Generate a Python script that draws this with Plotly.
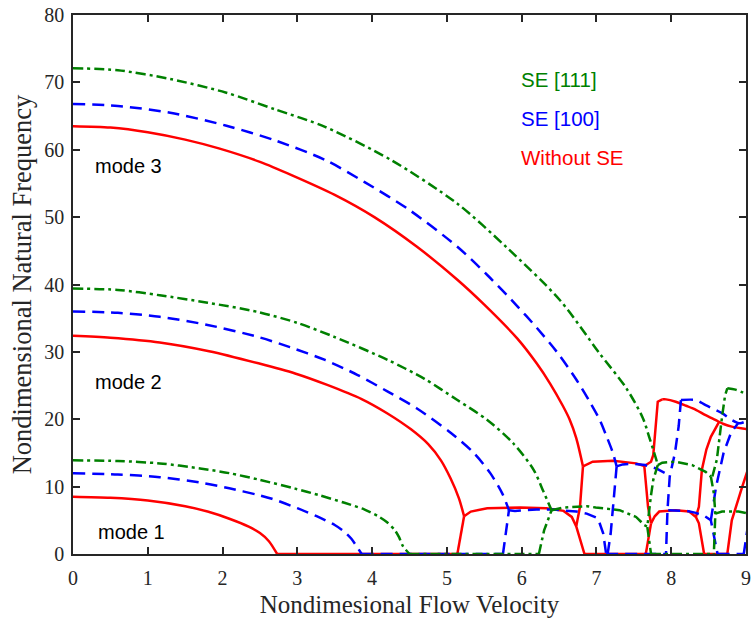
import plotly.graph_objects as go

# ---------------- Without SE (red, solid) ----------------
red_mode1_x = [0, 0.5, 1.0, 1.5, 1.8, 2.1, 2.35, 2.5, 2.62, 2.73]
red_mode1_y = [8.5, 8.35, 7.95, 7.1, 6.3, 5.2, 4.05, 3.1, 1.9, 0]
red_mode2_x = [0, 0.5, 1.16, 1.82, 2.48, 2.97, 3.4, 3.86, 4.2, 4.52, 4.75, 4.92, 5.05, 5.16, 5.23]
red_mode2_y = [32.4, 32.1, 31.4, 30.1, 28.3, 26.8, 25.1, 23.0, 20.9, 18.5, 16.3, 13.9, 11.2, 8.3, 5.6]
red_mode3_x = [0, 0.5, 1.0, 1.5, 1.95, 2.5, 2.93, 3.5, 4.03, 4.6, 5.14, 5.5, 5.94, 6.2, 6.38, 6.55, 6.64, 6.73, 6.82]
red_mode3_y = [63.5, 63.3, 62.6, 61.5, 60.2, 58.2, 56.2, 53.3, 50.0, 45.6, 40.7, 37.0, 32.0, 28.3, 25.3, 22.0, 20.0, 17.2, 13.0]
red_zero_x = [[2.73, 5.14], [6.84, 7.66], [8.44, 8.75]]
red_rise1_x = [5.14, 5.23]
red_rise1_y = [0, 5.6]
red_cpl1_x = [5.23, 5.32, 5.54, 5.98, 6.33, 6.56, 6.67, 6.73]
red_cpl1_y = [5.6, 6.3, 6.8, 6.9, 6.8, 6.4, 5.5, 4.1]
red_drop1_x = [6.82, 6.78, 6.73, 6.84]
red_drop1_y = [13.0, 7.0, 4.1, 0]
red_cpl2_x = [6.82, 6.95, 7.22, 7.53, 7.64]
red_cpl2_y = [13.0, 13.7, 13.85, 13.45, 13.06]
red_up1_x = [7.64, 7.73, 7.76, 7.82, 7.88]
red_up1_y = [13.06, 13.7, 14.7, 22.6, 22.95]
red_top_x = [7.88, 7.93, 8.06, 8.2, 8.33, 8.46, 8.59, 8.7, 8.81, 9.03]
red_top_y = [22.95, 22.95, 22.6, 22.0, 21.4, 20.6, 19.9, 19.3, 18.9, 18.5]
red_drop2_x = [7.64, 7.69, 7.73]
red_drop2_y = [13.06, 7.0, 4.55]
red_rise2_x = [7.66, 7.73]
red_rise2_y = [0, 4.55]
red_cpl3_x = [7.73, 7.78, 7.84, 8.06, 8.24, 8.33, 8.37, 8.44]
red_cpl3_y = [4.55, 5.6, 6.3, 6.5, 6.3, 5.5, 4.55, 0]
red_up2_x = [8.33, 8.37, 8.41, 8.47, 8.53, 8.64]
red_up2_y = [5.5, 7.0, 12.5, 15.5, 17.4, 19.6]
red_rise3_x = [8.75, 8.81, 8.95, 9.03]
red_rise3_y = [0, 5.0, 10.0, 12.7]

# ---------------- SE [100] (blue, dashed) ----------------
blue_mode1_x = [0, 0.6, 1.16, 1.7, 2.09, 2.48, 2.66, 3.0, 3.28, 3.5, 3.63, 3.72, 3.79, 3.86]
blue_mode1_y = [12.0, 11.8, 11.4, 10.6, 9.75, 8.75, 8.2, 6.8, 5.5, 4.3, 3.3, 2.3, 1.2, 0]
blue_mode2_x = [0, 0.6, 1.16, 1.8, 2.48, 2.9, 3.37, 3.8, 4.21, 4.6, 5.05, 5.36, 5.58, 5.74, 5.83]
blue_mode2_y = [36.0, 35.8, 35.2, 34.0, 32.2, 30.7, 28.8, 26.6, 24.1, 21.6, 18.0, 15.0, 12.0, 9.0, 6.5]
blue_mode3_x = [0, 0.6, 1.3, 2.04, 2.7, 3.37, 3.9, 4.48, 5.14, 5.55, 5.94, 6.2, 6.47, 6.73, 6.91, 7.04, 7.13, 7.22, 7.27]
blue_mode3_y = [66.8, 66.5, 65.5, 63.6, 61.4, 58.5, 55.2, 51.2, 45.6, 41.3, 36.8, 33.6, 30.0, 25.9, 22.6, 20.0, 17.6, 15.0, 13.0]
blue_zero_x = [[3.86, 5.75], [7.13, 7.93], [8.62, 8.97]]
blue_rise1_x = [5.75, 5.83]
blue_rise1_y = [0, 6.5]
blue_cpl1_x = [5.83, 5.91, 6.2, 6.42, 6.73, 6.87, 7.02, 7.09, 7.13]
blue_cpl1_y = [6.5, 6.4, 6.6, 6.6, 6.3, 6.0, 5.3, 3.07, 0]
blue_drop1_x = [7.27, 7.24, 7.19, 7.15]
blue_drop1_y = [13.0, 9.0, 3.0, 0]
blue_cpl2_x = [7.27, 7.35, 7.5, 7.65, 7.8, 7.92, 7.98]
blue_cpl2_y = [13.0, 13.3, 13.4, 13.2, 12.7, 12.0, 11.5]
blue_vert_x = [8.13, 8.1, 8.05, 7.98, 7.95, 7.93]
blue_vert_y = [22.85, 19.0, 15.0, 11.5, 6.5, 0]
blue_top_x = [8.13, 8.33, 8.46, 8.68, 8.81, 8.92, 9.03]
blue_top_y = [22.85, 22.85, 22.1, 20.9, 19.9, 19.4, 19.9]
blue_cpl3_x = [7.96, 8.02, 8.2, 8.33, 8.45, 8.53, 8.58, 8.62]
blue_cpl3_y = [6.5, 6.5, 6.4, 6.1, 5.6, 5.0, 2.5, 0]
blue_up2_x = [8.53, 8.6, 8.7, 8.8, 8.9]
blue_up2_y = [5.0, 10.0, 15.0, 18.0, 19.5]
blue_rise3_x = [8.97, 9.03]
blue_rise3_y = [0, 4.5]

# ---------------- SE [111] (green, dash-dot) ----------------
green_mode1_x = [0, 0.6, 1.16, 1.7, 2.09, 2.5, 2.97, 3.3, 3.63, 3.9, 4.08, 4.2, 4.30, 4.36, 4.41, 4.50]
green_mode1_y = [13.9, 13.8, 13.45, 12.7, 12.0, 11.0, 9.7, 8.7, 7.6, 6.6, 5.6, 4.7, 3.6, 2.5, 1.2, 0]
green_mode2_x = [0, 0.6, 1.16, 1.8, 2.48, 3.0, 3.5, 4.21, 4.7, 5.14, 5.54, 5.89, 6.16, 6.29, 6.40]
green_mode2_y = [39.4, 39.2, 38.4, 37.3, 35.9, 34.3, 32.2, 28.8, 26.0, 22.85, 19.9, 16.4, 12.5, 9.3, 6.5]
green_mode3_x = [0, 0.6, 1.3, 2.04, 2.7, 3.37, 4.25, 5.14, 5.8, 6.51, 7.04, 7.40, 7.62, 7.71, 7.80, 7.82]
green_mode3_y = [72.1, 71.8, 70.5, 68.5, 66.0, 63.4, 58.5, 52.0, 45.5, 37.7, 29.8, 24.6, 20.2, 17.2, 14.0, 13.2]
green_zero_x = [[4.50, 6.23], [7.73, 8.57]]
green_rise1_x = [6.23, 6.30, 6.40]
green_rise1_y = [0, 3.5, 6.5]
green_cpl1_x = [6.40, 6.56, 6.87, 6.99, 7.31, 7.53, 7.64, 7.68]
green_cpl1_y = [6.5, 6.9, 7.1, 6.9, 6.5, 5.5, 4.3, 4.05]
green_drop1_x = [7.82, 7.80, 7.76, 7.73, 7.70, 7.68, 7.73]
green_drop1_y = [13.2, 12.5, 11.0, 8.75, 6.0, 4.05, 0]
green_cpl2_x = [7.82, 7.88, 8.06, 8.28, 8.46, 8.53]
green_cpl2_y = [13.2, 13.55, 13.7, 13.2, 12.2, 11.5]
green_drop2_x = [8.53, 8.57, 8.59, 8.58, 8.57]
green_drop2_y = [11.5, 9.0, 6.0, 2.1, 0]
green_up_x = [8.55, 8.61, 8.68, 8.72, 8.75]
green_up_y = [11.5, 14.0, 20.4, 23.5, 24.6]
green_top_x = [8.75, 8.86, 9.03]
green_top_y = [24.6, 24.4, 23.6]
green_cpl3_x = [8.59, 8.68, 8.90, 9.03]
green_cpl3_y = [6.0, 6.3, 6.3, 6.0]

mode_labels = ["mode 1", "mode 2", "mode 3"]
series_names = ["SE [111]", "SE [100]", "Without SE"]


def branches(pairs, zeros=()):
    """Join several branches into one line trace, separated by gaps."""
    xs, ys = [], []
    for bx, by in pairs:
        xs += list(bx) + [None]
        ys += list(by) + [None]
    for z in zeros:
        xs += list(z) + [None]
        ys += [0] * len(z) + [None]
    return xs, ys


# long, smoothly varying branches (spline) and the short jointed ones (straight)
red_smooth = branches([(red_mode1_x, red_mode1_y), (red_mode2_x, red_mode2_y),
                       (red_mode3_x, red_mode3_y), (red_top_x, red_top_y)])
red_sharp = branches([(red_rise1_x, red_rise1_y), (red_cpl1_x, red_cpl1_y), (red_drop1_x, red_drop1_y),
                      (red_cpl2_x, red_cpl2_y), (red_up1_x, red_up1_y), (red_drop2_x, red_drop2_y),
                      (red_rise2_x, red_rise2_y), (red_cpl3_x, red_cpl3_y), (red_up2_x, red_up2_y),
                      (red_rise3_x, red_rise3_y)], red_zero_x)
blue_smooth = branches([(blue_mode1_x, blue_mode1_y), (blue_mode2_x, blue_mode2_y),
                        (blue_mode3_x, blue_mode3_y), (blue_top_x, blue_top_y)])
blue_sharp = branches([(blue_rise1_x, blue_rise1_y), (blue_cpl1_x, blue_cpl1_y), (blue_drop1_x, blue_drop1_y),
                       (blue_cpl2_x, blue_cpl2_y), (blue_vert_x, blue_vert_y), (blue_cpl3_x, blue_cpl3_y),
                       (blue_up2_x, blue_up2_y), (blue_rise3_x, blue_rise3_y)], blue_zero_x)
green_smooth = branches([(green_mode1_x, green_mode1_y), (green_mode2_x, green_mode2_y),
                         (green_mode3_x, green_mode3_y), (green_top_x, green_top_y)])
green_sharp = branches([(green_rise1_x, green_rise1_y), (green_cpl1_x, green_cpl1_y),
                        (green_drop1_x, green_drop1_y), (green_cpl2_x, green_cpl2_y),
                        (green_drop2_x, green_drop2_y), (green_up_x, green_up_y),
                        (green_cpl3_x, green_cpl3_y)], green_zero_x)

RED, BLUE, GREEN = "#FF0000", "#0000FF", "#008000"
AX = "#262626"
styles = [
    (series_names[2], red_smooth, red_sharp, dict(color=RED, width=2.5)),
    (series_names[1], blue_smooth, blue_sharp, dict(color=BLUE, width=2.5, dash="12px,7px")),
    (series_names[0], green_smooth, green_sharp, dict(color=GREEN, width=2.5, dash="10px,4px,3px,4px")),
]

fig = go.Figure()
for name, smooth, sharp, line in styles:
    fig.add_trace(go.Scatter(x=smooth[0], y=smooth[1], mode="lines", name=name,
                             line=dict(shape="spline", smoothing=0.8, **line)))
    fig.add_trace(go.Scatter(x=sharp[0], y=sharp[1], mode="lines", name=name,
                             line=dict(shape="linear", **line)))

# curve labels
for txt, xx, yy in [(mode_labels[2], 0.27, 57.6), (mode_labels[1], 0.27, 25.6), (mode_labels[0], 0.31, 3.3)]:
    fig.add_annotation(x=xx, y=yy, text=txt, showarrow=False, xanchor="left", yanchor="middle",
                       font=dict(family="Liberation Sans, Arial", size=20, color="black"))
for txt, yy, col in [(series_names[0], 70.5, GREEN), (series_names[1], 64.7, BLUE), (series_names[2], 58.9, RED)]:
    fig.add_annotation(x=5.96, y=yy, text=txt, showarrow=False, xanchor="left", yanchor="middle",
                       font=dict(family="Liberation Sans, Arial", size=20.5, color=col))

SERIF = "Liberation Serif, Times New Roman"
axis_common = dict(showline=True, linecolor=AX, linewidth=1.5, mirror="ticks",
                   ticks="inside", ticklen=7, tickwidth=1.5, tickcolor=AX,
                   showgrid=False, zeroline=False,
                   tickfont=dict(family=SERIF, size=20, color=AX))
fig.update_xaxes(range=[0, 9], dtick=1, tick0=0, ticklabelstandoff=5,
                 title=dict(text="Nondimesional Flow Velocity", standoff=8,
                            font=dict(family=SERIF, size=25, color=AX)),
                 **axis_common)
fig.update_yaxes(range=[0, 80], dtick=10, tick0=0, ticklabelstandoff=3,
                 title=dict(text="Nondimensional Natural Frequency", standoff=5,
                            font=dict(family=SERIF, size=26.5, color=AX)),
                 **axis_common)
fig.update_layout(width=755, height=621, showlegend=False,
                  margin=dict(l=73, r=4, t=15, b=67),
                  plot_bgcolor="white", paper_bgcolor="white")
fig.write_html("out.html")
